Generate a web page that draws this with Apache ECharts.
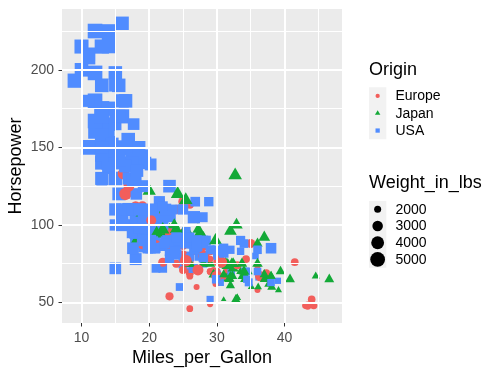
<!DOCTYPE html>
<html><head><meta charset="utf-8">
<script src="https://cdn.jsdelivr.net/npm/echarts@6/dist/echarts.min.js"></script>
<style>html,body{margin:0;padding:0;background:#fff}#c{width:500px;height:375px}</style>
</head><body><div id="c"></div>
<script>
// ---- data (row order as in the source table) ----
const mpg = [
18,15,18,16,17,15,14,14,14,15,15,14,15,14,24,22,18,21,27,26,25,24,25,26,21,10,10,11,9,
27,28,25,19,16,17,19,18,14,14,14,14,12,13,13,18,22,19,18,23,28,30,30,31,35,27,26,
24,25,23,20,21,13,14,15,14,17,11,13,12,13,19,15,13,13,14,18,22,21,26,22,28,23,28,27,
13,14,13,14,15,12,13,13,14,13,12,13,18,16,18,18,23,26,11,12,13,12,18,20,21,22,18,19,21,26,15,16,29,24,20,19,15,24,20,11,
20,19,15,31,26,32,25,16,16,18,16,13,14,14,14,29,26,26,31,32,28,24,26,24,26,31,
19,18,15,15,16,15,16,14,17,16,15,18,21,20,13,29,23,20,23,24,25,24,18,29,19,23,23,22,25,33,
28,25,25,26,27,17.5,16,15.5,14.5,22,22,24,22.5,29,24.5,29,33,20,18,18.5,17.5,29.5,32,28,26.5,20,13,19,19,16.5,16.5,13,13,13,
31.5,30,36,25.5,33.5,17.5,17,15.5,15,17.5,20.5,19,18.5,16,15.5,15.5,16,29,24.5,26,25.5,30.5,33.5,30,30.5,22,21.5,21.5,
43.1,36.1,32.8,39.4,36.1,19.9,19.4,20.2,19.2,20.5,20.2,25.1,20.5,19.4,20.6,20.8,18.6,18.1,19.2,17.7,18.1,17.5,30,27.5,27.2,30.9,21.1,23.2,23.8,23.9,20.3,17,21.6,16.2,31.5,29.5,
21.5,19.8,22.3,20.2,20.6,17,17.6,16.5,18.2,16.9,15.5,19.2,18.5,31.9,34.1,35.7,27.4,25.4,23,27.2,23.9,34.2,34.5,31.8,37.3,28.4,28.8,26.8,33.5,
41.5,38.1,32.1,37.2,28,26.4,24.3,19.1,34.3,29.8,31.3,37,32.2,46.6,27.9,40.8,44.3,43.4,36.4,30,44.6,33.8,29.8,32.7,23.7,35,32.4,
27.2,26.6,25.8,23.5,30,39.1,39,35.1,32.3,37,37.7,34.1,34.7,34.4,29.9,33,33.7,32.4,32.9,31.6,28.1,30.7,25.4,24.2,22.4,26.6,20.2,17.6,
28,27,34,31,29,27,24,36,37,31,38,36,36,36,34,38,32,38,25,38,26,22,32,36,27,27,44,32,28,31
];
const horsepower = [
130,165,150,150,140,198,220,215,225,190,170,160,150,225,95,95,97,85,88,46,87,90,95,113,90,215,200,210,193,
88,90,95,100,105,100,88,100,165,175,153,150,180,170,175,110,72,100,88,86,90,70,76,65,69,60,70,
95,80,54,90,86,165,175,150,153,150,208,155,160,190,97,150,130,140,150,112,76,87,69,86,92,97,80,88,
175,150,145,137,150,198,150,158,150,215,225,175,105,100,100,88,95,46,150,167,170,180,100,88,72,94,90,85,107,90,145,230,49,75,91,112,150,110,122,180,
95,100,100,67,80,65,75,100,110,105,140,150,150,140,150,83,67,78,52,61,75,75,75,97,93,67,
95,105,72,72,170,145,150,148,110,105,110,95,110,110,129,75,83,100,78,96,71,97,97,70,90,95,88,98,115,53,
86,81,92,79,83,140,150,120,152,100,105,81,90,52,60,70,53,100,78,110,95,71,70,75,72,102,150,88,108,120,180,145,130,150,
68,80,58,96,70,145,110,145,130,110,105,100,98,180,170,190,149,78,88,75,89,63,83,67,78,97,110,110,
48,66,52,70,60,110,140,139,105,95,85,88,100,90,105,85,110,120,145,165,139,140,68,95,97,75,95,105,85,97,103,125,115,133,71,68,
115,85,88,90,110,130,129,138,135,155,142,125,150,71,65,80,80,77,125,71,90,70,70,65,69,90,115,115,90,
76,60,70,65,90,88,90,90,78,90,75,92,75,65,105,65,48,48,67,67,67,67,62,132,100,88,72,
84,84,92,110,84,58,64,60,67,65,62,68,63,65,65,74,75,75,100,74,80,76,116,120,110,105,88,85,
88,88,88,85,84,90,92,74,68,68,63,70,88,75,70,67,67,67,110,85,92,112,96,84,90,86,52,84,79,82
];
const weight = [
3504,3693,3436,3433,3449,4341,4354,4312,4425,3850,3563,3609,3761,3086,2372,2833,2774,2587,2130,1835,2672,2430,2375,2234,2648,4615,4376,4382,4732,
2130,2264,2228,2634,3439,3329,3302,3288,4209,4464,4154,4096,4955,4746,5140,2962,2408,3282,3139,2220,2123,2074,2065,1773,1613,1834,1955,
2278,2126,2254,2408,2226,4274,4385,4135,4129,3672,4633,4502,4456,4422,2330,3892,4098,4294,4077,2933,2511,2979,2189,2395,2288,2506,2164,2100,
4100,3672,3988,4042,3777,4952,4464,4363,4237,4735,4951,3821,3121,3278,2945,3021,2904,1950,4997,4906,4654,4499,2789,2279,2401,2379,2124,2310,2472,2265,4082,4278,1867,2158,2582,2868,3399,2660,2807,3664,
3102,2901,3336,1950,2451,1836,2542,3781,3632,3613,4141,4699,4457,4638,4257,2219,1963,2300,1649,2003,2125,2108,2246,2489,2391,2000,
3264,3459,3432,3158,4668,4440,4498,4657,3907,3897,3730,3785,3039,3221,3169,2171,2639,2914,2592,2702,2223,2545,2984,1937,3211,2694,2957,2945,2671,1795,
2464,2220,2572,2255,2202,4215,4190,3962,4215,3233,3353,3012,3085,2035,2164,1937,1795,3651,3574,3645,3193,1825,1990,2155,2565,3150,3940,3270,2930,3820,4380,4055,3870,3755,
2045,2155,1825,2300,1945,3880,4060,4140,4295,3520,3425,3630,3525,4220,4165,4325,4335,1940,2740,2265,2755,2051,2075,1985,2190,2815,2600,2720,
1985,1800,1985,2070,1800,3365,3735,3570,3535,3155,2965,2720,3430,3210,3380,3070,3620,3410,3425,3445,3205,4080,2155,2560,2300,2230,2515,2745,2855,2405,2830,3140,2795,3410,1990,2135,
3245,2990,2890,3265,3360,3840,3725,3955,3830,4360,4054,3605,3940,1925,1975,1915,2670,3530,3900,3190,3420,2200,2150,2020,2130,2670,2595,2700,2556,
2144,1968,2120,2019,2678,2870,3003,3381,2188,2711,2542,2434,2265,2110,2800,2110,2085,2335,2950,3250,1850,2145,1845,2910,2420,2500,2290,
2490,2635,2620,2725,2385,1755,1875,1760,2065,1975,2050,1985,2215,2045,2380,2190,2210,2350,2615,2635,3230,3160,2900,2930,3415,3725,3060,3465,
2605,2640,2395,2575,2525,2735,2865,1980,2025,1970,2125,2125,2160,2205,2245,1965,1965,1995,2945,3015,2585,2835,2665,2370,2950,2790,2130,2295,2625,2720
];
// origin per row: E = Europe, J = Japan, U = USA
const originCodes = (
  "UUUUU"+"UUUUU"+"UUUU"+"J"+"UUU"+"J"+"EEEEE"+"UUUUU" +
  "JUJ"+"UUUUU"+"UUUUU"+"UUUUU"+"UU"+"EEEJJEU" +
  "JUE"+"UUUUU"+"UUUUU"+"U"+"J"+"UUUU"+"EEEE"+"U"+"JJ"+"U"+"J" +
  "UUUUU"+"UUUUU"+"UUUUU"+"UU"+"E"+"UUUUU"+"JUJJUUE"+"UUEEEEUEJU" +
  "UUUJUJU"+"UUUUU"+"UUU"+"EEEJJUEEJJE" +
  "UUUUU"+"UUUUU"+"UUUUU"+"JUUUJEJUEUEEEEJ" +
  "EEUUE"+"UUUUU"+"UUUUU"+"EJUUUUEJJUEUEJEUUUU" +
  "JUEUJ"+"UUUUU"+"UUUUU"+"UU"+"EUJUUUJEJEJ" +
  "EUJJJ"+"UUUUU"+"UUUUU"+"UUUUU"+"UUU"+"JJUJUUJEEEEEJ" +
  "UUUUU"+"UUUUU"+"UUU"+"EJUUEUEUUUJEUUUU" +
  "EJUJUUUUEJJJJJUJEEEEJJEJJEJ" +
  "UUUUUJUJJJJJUUUEJJJJEEJJUUUU" +
  "UUUUUUUEJJUUJJJJJJUUUUJUUUEUUU"
).split('');
const originLevels = ['Europe', 'Japan', 'USA'];
const originByCode = {E: 'Europe', J: 'Japan', U: 'USA'};
const xTicks = [10, 20, 30, 40];
const xMinorTicks = [15, 25, 35, 45];
const yTicks = [50, 100, 150, 200];
const yMinorTicks = [75, 125, 175, 225];
const weightBreaks = [2000, 3000, 4000, 5000];

// ---- styles ----
const colors = {Europe: '#F25E5B', Japan: '#13A937', USA: '#508CFF'};
const shapes = {Europe: 'circle', Japan: 'triangle', USA: 'rect'};
const FONT = "'Liberation Sans', Arial, Helvetica, sans-serif";

// ggplot-like expansion (5%)
function expand(arr) { const lo = Math.min(...arr), hi = Math.max(...arr), d = (hi - lo) * 0.05; return [lo - d, hi + d]; }
const [xMin, xMax] = expand(mpg);
const [yMin, yMax] = expand(horsepower);
const wMin = Math.min(...weight), wMax = Math.max(...weight);
function sizeUnit(w) { return 1 + 5 * Math.sqrt(Math.max(0, w - wMin) / (wMax - wMin)); }
const PX = 3.17;   // px of font size per ggplot size unit
const STROKE = 0.7;
function symbolFor(shape, s) {
  const fs = PX * s;
  if (shape === 'circle') return {symbol: 'circle', symbolSize: 0.75 * fs + STROKE};
  if (shape === 'rect') { const a = 0.75 * fs + STROKE; return {symbol: 'rect', symbolSize: [a, a]}; }
  const w = 1.01 * fs + STROKE, h = 0.875 * fs + STROKE;
  return {symbol: 'triangle', symbolSize: [w, h], symbolOffset: [0, -h / 6]};
}

const points = mpg.map((m, i) => {
  const o = originByCode[originCodes[i]];
  const sym = symbolFor(shapes[o], sizeUnit(weight[i]));
  return Object.assign({value: [m, horsepower[i], weight[i]], itemStyle: {color: colors[o]}}, sym);
});

const gridLines = []
  .concat(xTicks.map(v => ({xAxis: v, lineStyle: {width: 2}})))
  .concat(xMinorTicks.map(v => ({xAxis: v, lineStyle: {width: 1}})))
  .concat(yTicks.map(v => ({yAxis: v, lineStyle: {width: 2}})))
  .concat(yMinorTicks.map(v => ({yAxis: v, lineStyle: {width: 1}})));

// ---- legends (drawn as graphics) ----
const LX = 369, KW = 17.3, KH = 17.3, KCX = LX + KW / 2, TX = 395.5;
const graphics = [];
graphics.push({type: 'text', x: LX, y: 70.5, style: {text: 'Origin', font: '18px ' + FONT, fill: '#000', textVerticalAlign: 'middle'}});
const oTop = 87.3;
graphics.push({type: 'rect', shape: {x: LX, y: oTop, width: KW, height: KH * originLevels.length}, style: {fill: '#F2F2F2'}});
originLevels.forEach((o, i) => {
  const cy = oTop + KH / 2 + i * KH;
  const fs = PX * 1.5, c = colors[o];
  if (shapes[o] === 'circle') graphics.push({type: 'circle', shape: {cx: KCX, cy: cy, r: (0.75 * fs + STROKE) / 2}, style: {fill: c}});
  else if (shapes[o] === 'rect') { const s = 0.75 * fs + STROKE; graphics.push({type: 'rect', shape: {x: KCX - s / 2, y: cy - s / 2, width: s, height: s}, style: {fill: c}}); }
  else { const r = 0.583 * fs + STROKE / 2; graphics.push({type: 'polygon', shape: {points: [[KCX, cy - r], [KCX + 0.866 * r, cy + 0.5 * r], [KCX - 0.866 * r, cy + 0.5 * r]]}, style: {fill: c}}); }
  graphics.push({type: 'text', x: TX, y: cy + 0.5, style: {text: o, font: '14px ' + FONT, fill: '#000', textVerticalAlign: 'middle'}});
});
graphics.push({type: 'text', x: LX, y: 183.5, style: {text: 'Weight_in_lbs', font: '18px ' + FONT, fill: '#000', textVerticalAlign: 'middle'}});
const wTop = 201, WKH = 16.7;
graphics.push({type: 'rect', shape: {x: LX, y: wTop, width: KW, height: WKH * weightBreaks.length}, style: {fill: '#F2F2F2'}});
weightBreaks.forEach((w, i) => {
  const cy = wTop + WKH / 2 + i * WKH;
  const d = 0.75 * PX * sizeUnit(w) + STROKE;
  graphics.push({type: 'circle', shape: {cx: KCX, cy: cy, r: d / 2}, style: {fill: '#000'}});
  graphics.push({type: 'text', x: TX, y: cy + 0.5, style: {text: String(w), font: '14px ' + FONT, fill: '#000', textVerticalAlign: 'middle'}});
});

const chart = echarts.init(document.getElementById('c'), null, {renderer: 'canvas'});
chart.setOption({
  animation: false,
  backgroundColor: '#fff',
  textStyle: {fontFamily: FONT},
  grid: {left: 62, right: 158, top: 9, bottom: 52, show: true, backgroundColor: '#EBEBEB', borderWidth: 0, containLabel: false, outerBoundsMode: 'none'},
  xAxis: {
    type: 'value', min: xMin, max: xMax,
    name: 'Miles_per_Gallon', nameLocation: 'middle', nameGap: 26, nameMoveOverlap: false,
    nameTextStyle: {fontSize: 18, color: '#000', fontFamily: FONT},
    axisLine: {show: false},
    axisTick: {show: true, customValues: xTicks, length: 3.5, lineStyle: {color: '#333', width: 1}},
    axisLabel: {customValues: xTicks, color: '#4D4D4D', fontSize: 14, margin: 8, fontFamily: FONT},
    splitLine: {show: false}
  },
  yAxis: {
    type: 'value', min: yMin, max: yMax,
    name: 'Horsepower', nameLocation: 'middle', nameGap: 37, nameMoveOverlap: false,
    nameTextStyle: {fontSize: 18, color: '#000', fontFamily: FONT},
    axisLine: {show: false},
    axisTick: {show: true, customValues: yTicks, length: 3.5, lineStyle: {color: '#333', width: 1}},
    axisLabel: {customValues: yTicks, color: '#4D4D4D', fontSize: 14, margin: 8, fontFamily: FONT},
    splitLine: {show: false}
  },
  series: [
    {type: 'scatter', z: 1, data: [], silent: true,
     markLine: {silent: true, symbol: ['none', 'none'], label: {show: false}, animation: false,
       lineStyle: {color: '#FFFFFF', type: 'solid'}, data: gridLines}},
    {type: 'scatter', z: 3, silent: true, data: points, itemStyle: {opacity: 1}}
  ],
  graphic: graphics
});
</script>
</body></html>
